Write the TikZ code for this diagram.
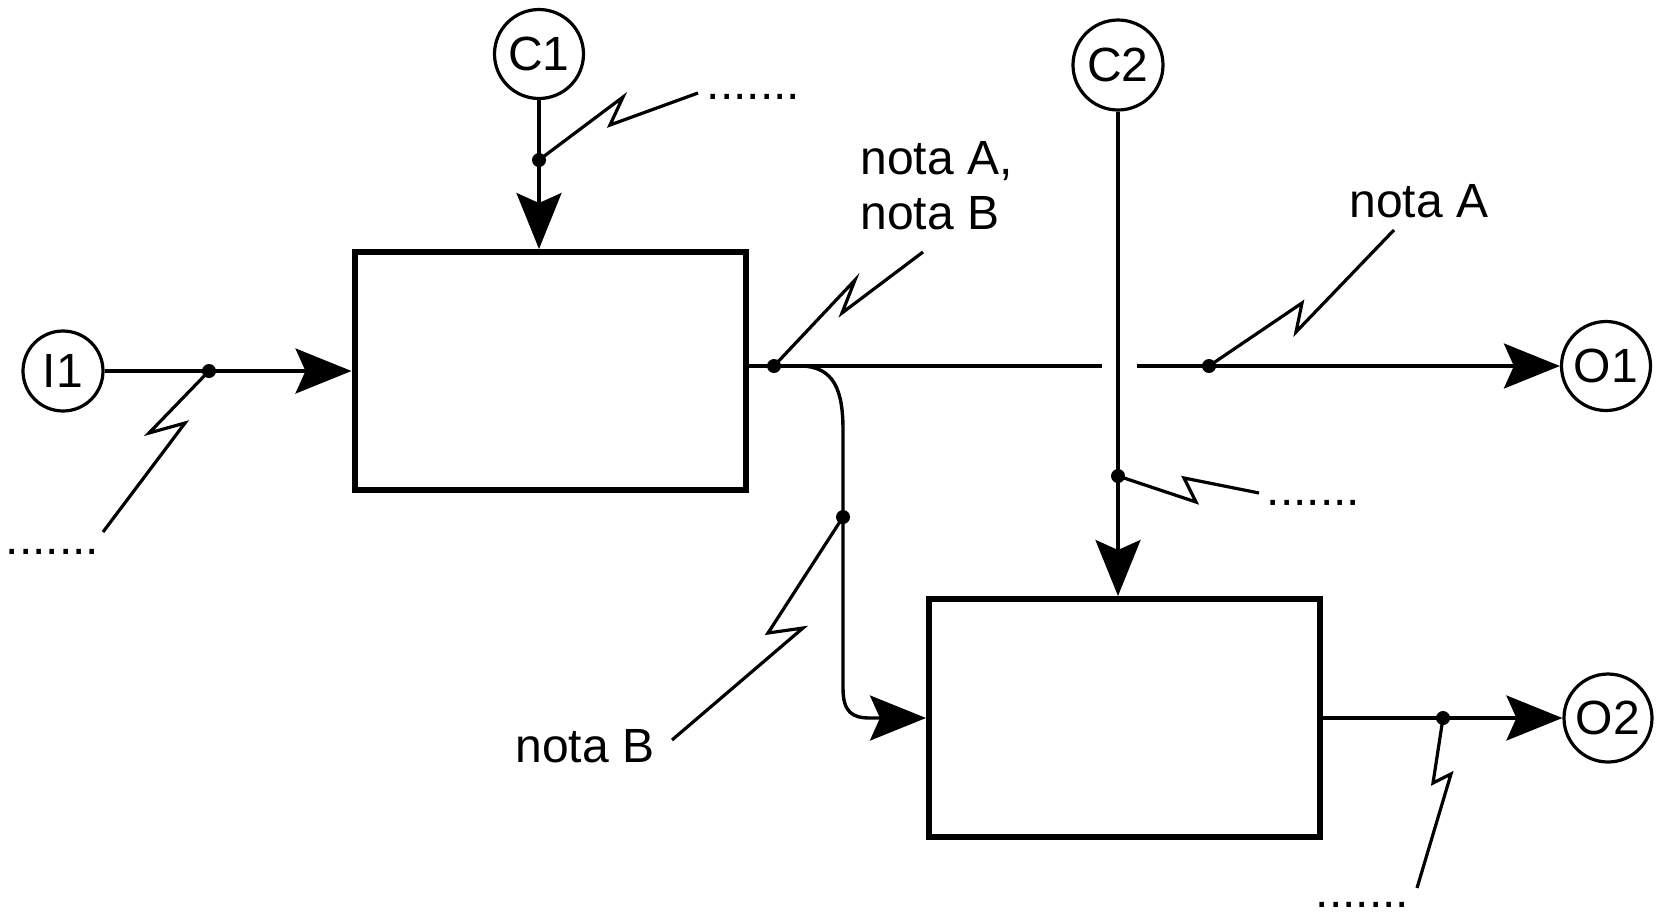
\documentclass[tikz,border=0pt]{standalone}
\usepackage{fontspec}
\setmainfont{Liberation Sans}
\usetikzlibrary{arrows.meta}
\begin{document}
\begin{tikzpicture}[x=0.5pt,y=-0.5pt,
  txt/.style={font=\fontsize{24}{27.5}\selectfont, inner sep=0pt},
  boxnode/.style={draw, line width=3pt, minimum width=195.5pt, minimum height=119pt, inner sep=0pt},
  lab/.style={draw, circle, line width=1.6pt, inner sep=0pt, font=\fontsize{24}{28}\selectfont},
  conn/.style={line width=1.7pt},
  flow/.style={line width=1.7pt, -{Stealth[length=28pt, width=22.5pt, inset=5pt]}},
  bolt/.style={line width=1.6pt, line join=miter, miter limit=20},
  jdot/.style={fill, circle, inner sep=0pt, minimum size=7pt},
]
\useasboundingbox (0,0) rectangle (1661,917);

% boxes
\node[boxnode] (b1) at (550,371) {};
\node[boxnode] (b2) at (1124.5,718) {};

% circled labels
\node[lab, minimum size=40pt] (I1) at (63,371) {I1};
\node[lab, minimum size=44.5pt] (C1) at (539,54) {C1};
\node[lab, minimum size=45pt] (C2) at (1118,65) {C2};
\node[lab, minimum size=44.5pt] (O1) at (1606,366) {O1};
\node[lab, minimum size=44pt] (O2) at (1608,718) {O2};

% junction dots
\node[jdot] (j1) at (209,371) {};
\node[jdot] (jc1) at (539,160) {};
\node[jdot] (j2) at (774,366) {};
\node[jdot] (j3) at (843,517) {};
\node[jdot] (j4) at (1209,366) {};
\node[jdot] (jc2) at (1118,476) {};
\node[jdot] (j5) at (1443,718) {};

% free ends
\coordinate (gapL) at (1102,366);
\coordinate (gapR) at (1137,366);
\coordinate (e1) at (103,532);
\coordinate (e2) at (698,93);
\coordinate (e3) at (923,252);
\coordinate (e4) at (1394,230);
\coordinate (e5) at (1259,493);
\coordinate (e6) at (672,740);
\coordinate (e7) at (1417,888);

% connectors
\draw[flow] (I1) -- (b1);
\draw[flow] (C1) -- (C1 |- b1.north);
\draw[conn] (b1.east |- j2) -- (gapL);
\draw[flow] (gapR) -- (O1);
\draw[flow] (C2) -- (C2 |- b2.north);
\draw[flow] (j2.center) -- (800,366) .. controls (835,366) and (843,392) .. (843,430)
   -- (843,688) .. controls (843,712) and (852,718) .. (870,718) -- (b2.west);
\draw[flow] (b2) -- (O2);

% squiggles
\draw[bolt] (j1.center) -- (149,433) -- (185,423) -- (e1);
\draw[bolt] (jc1.center) -- (623,97) -- (610,125) -- (e2);
\draw[bolt] (j2.center) -- (855,280) -- (842,313) -- (e3);
\draw[bolt] (j4.center) -- (1302,303) -- (1296,332) -- (e4);
\draw[bolt] (jc2.center) -- (1196,502) -- (1184,478) -- (e5);
\draw[bolt] (j3.center) -- (768,633) -- (803,628) -- (e6);
\draw[bolt] (j5.center) -- (1433,783) -- (1451,774) -- (e7);

% texts
\node[txt, anchor=base west, align=left] (tAB) at (860,229) {nota A,\\nota B};
\node[txt, anchor=base west] (tA) at (1349,217) {nota A};
\node[txt, anchor=base west] (tB) at (515,762) {nota B};
\node[txt, anchor=base west] (d1) at (5.5,554.5) {.......};
\node[txt, anchor=base west] (d2) at (706.5,99.5) {.......};
\node[txt, anchor=base west] (d3) at (1266.5,505.5) {.......};
\node[txt, anchor=base west] (d4) at (1315.5,907) {.......};
\end{tikzpicture}
\end{document}
